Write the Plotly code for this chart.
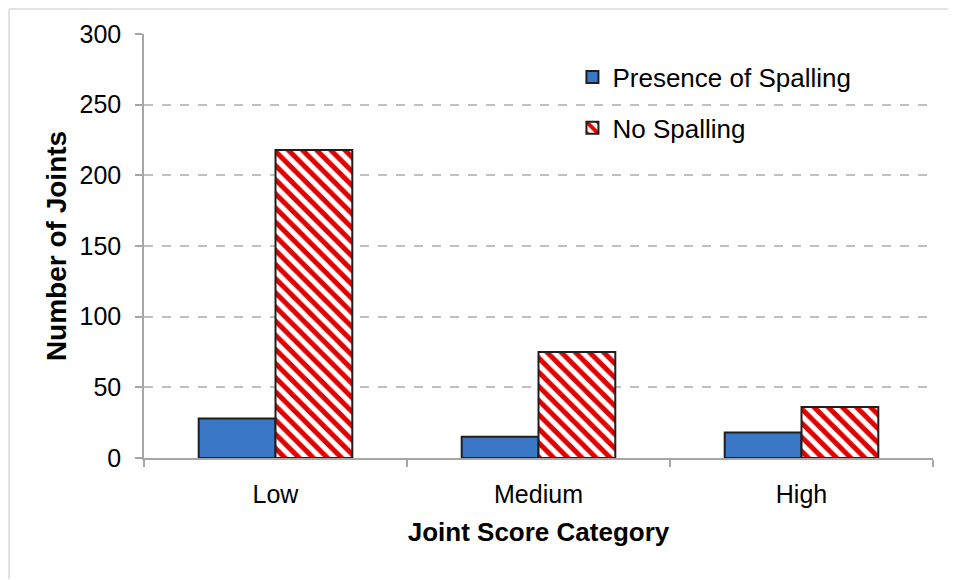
import plotly.graph_objects as go

categories = ["Low", "Medium", "High"]
presence_of_spalling = [28, 15, 18]
no_spalling = [218, 75, 36]
y_ticks = [0, 50, 100, 150, 200, 250, 300]

FONT = "Liberation Sans, Arial, sans-serif"

fig = go.Figure()
fig.add_trace(go.Bar(
    x=categories, y=presence_of_spalling, name="Presence of Spalling",
    legendgroup="a",
    marker=dict(color="#3a78c6", line=dict(color="#1e1e1e", width=2)),
))
fig.add_trace(go.Bar(
    x=categories, y=no_spalling, name="No Spalling",
    legendgroup="b",
    marker=dict(color="white", line=dict(color="#1e1e1e", width=2),
                pattern=dict(shape="\\", fgcolor="#e00000", bgcolor="white",
                             fgopacity=1, size=10, solidity=0.5)),
))

# page body adds an 8px offset, so the figure is sized/margined to compensate
fig.update_layout(
    width=948, height=572,
    margin=dict(l=136, r=23, t=26, b=122, autoexpand=False),
    paper_bgcolor="white", plot_bgcolor="white",
    barmode="group", bargap=0.416, bargroupgap=0,
    font=dict(family=FONT, size=25, color="#000000"),
    showlegend=True,
    legend=dict(x=0.543, y=0.954, xanchor="left", yanchor="top",
                font=dict(size=26), bgcolor="rgba(0,0,0,0)",
                traceorder="grouped", tracegroupgap=14, itemwidth=30),
    xaxis=dict(
        automargin=False,
        showline=True, linecolor="#a6a6a6", linewidth=1.5,
        ticks="outside", tickson="boundaries", ticklen=7, tickcolor="#a6a6a6",
        tickwidth=1.5, ticklabelstandoff=13,
        title=dict(text="<b>Joint Score Category</b>", font=dict(size=26), standoff=16),
        showgrid=False,
    ),
    yaxis=dict(
        automargin=False,
        range=[0, 300], tickvals=y_ticks,
        showline=True, linecolor="#a6a6a6", linewidth=1.5,
        ticks="outside", ticklen=7, tickcolor="#a6a6a6", tickwidth=1.5,
        ticklabelstandoff=9,
        showgrid=True, gridcolor="#c0c0c0", griddash="dash", gridwidth=1.5,
        zeroline=False,
        title=dict(text="<b>Number of Joints</b>", font=dict(size=28), standoff=5),
    ),
)

# light outer border (left and top edges visible in reference)
fig.add_shape(type="line", xref="paper", yref="paper",
              x0=-135/789, x1=-135/789, y0=-121/424, y1=1 + 25/424,
              line=dict(color="#d9d9d9", width=1.5))
fig.add_shape(type="line", xref="paper", yref="paper",
              x0=-135/789, x1=1 + 23/789, y0=1 + 25/424, y1=1 + 25/424,
              line=dict(color="#d9d9d9", width=1.5))

fig.write_html("out.html")
